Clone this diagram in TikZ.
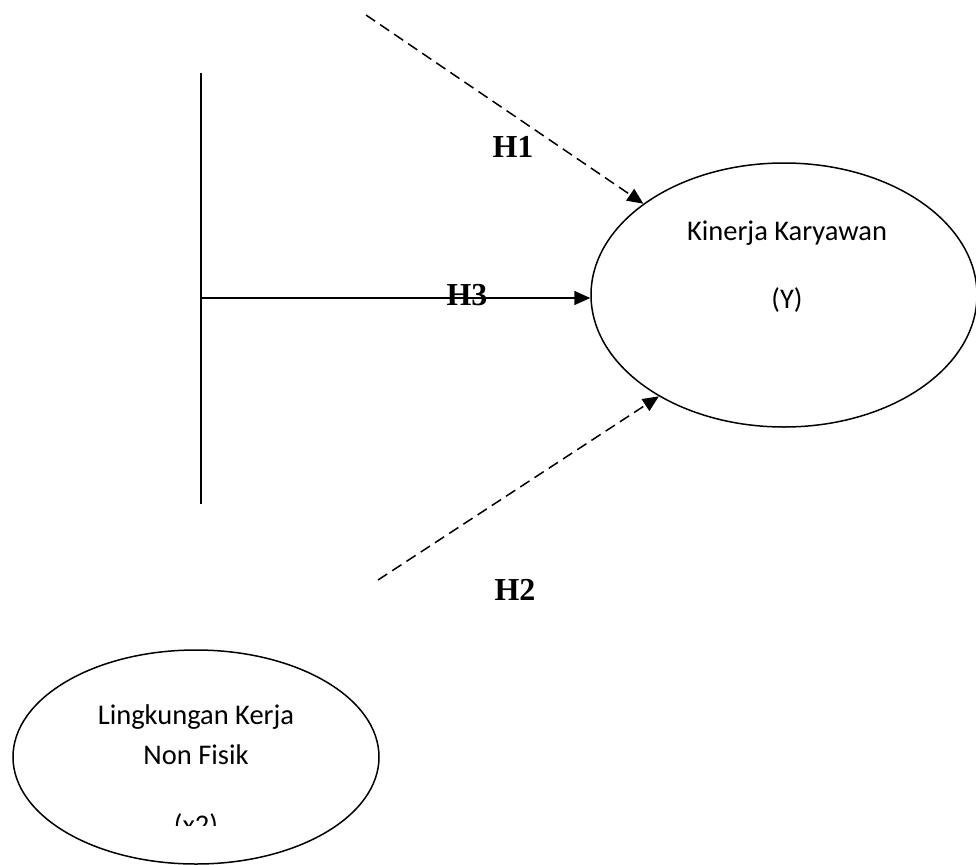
\documentclass[tikz,border=0pt]{standalone}
\usepackage{fontspec}
\setmainfont{Liberation Serif}
\newfontfamily\calibri{Carlito}
\usetikzlibrary{arrows.meta,positioning,shapes.geometric}

\tikzset{
  latent/.style={draw, ellipse, inner sep=0pt},
  vartext/.style={font=\calibri\fontsize{28.5}{40}\selectfont, align=center},
  hyp/.style={font=\bfseries\fontsize{32}{38}\selectfont},
  effect/.style={dash pattern=on 11pt off 6pt},
}

\begin{document}
\begin{tikzpicture}[x=1pt, y=-1pt, line width=1.5pt, >={Triangle[length=16pt,width=14pt]}]
\useasboundingbox (0,0) rectangle (976,864);

% variabel Y
\node[latent, minimum width=386pt, minimum height=264pt] (y) at (784,295) {};
\node[vartext] (ylab) at (787,233) {Kinerja Karyawan};
\node[vartext] (ysym) at (787,300) {(Y)};

% variabel X2
\node[latent, minimum width=366pt, minimum height=214pt] (x2) at (196,757) {};
\node[vartext] (x2lab) at (196,735) {Lingkungan Kerja\\Non Fisik};
\begin{scope}
  \clip (100,790) rectangle (300,825);
  \node[vartext, anchor=base] (x2sym) at (196,834) {(x2)};
\end{scope}

% garis simultan
\coordinate (top) at (201,73);
\coordinate (bot) at (201,504);
\coordinate (split) at (201,298);
\draw (top) -- (bot);
\draw[->] (split) -- (split -| y.west);

% hipotesis parsial
\coordinate (h1from) at (366,15);
\coordinate (h2from) at (378,580);
\draw[->, effect] (h1from) -- (y.147);
\draw[->, effect] (h2from) -- (y.219);

\node[hyp] (h1) at (513,147) {H1};
\node[hyp] (h3) at (467,295) {H3};
\node[hyp] (h2) at (515,590) {H2};
\end{tikzpicture}
\end{document}
